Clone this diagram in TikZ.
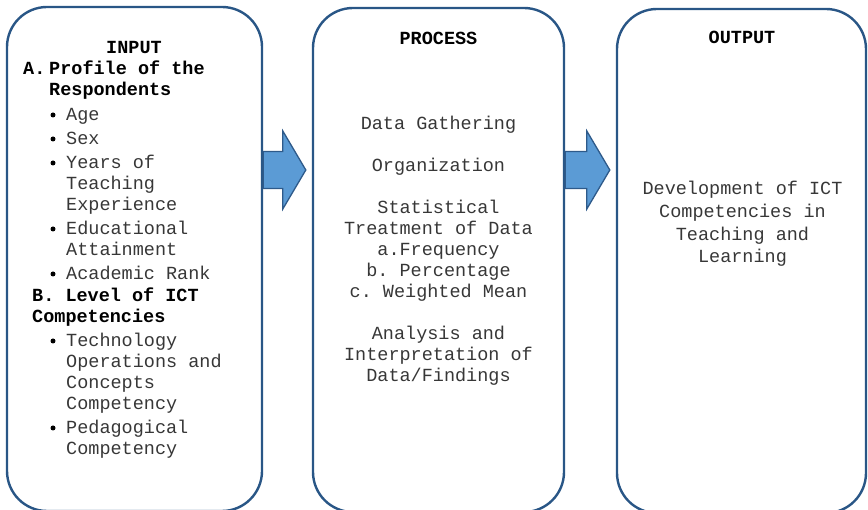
\documentclass[tikz,border=0pt]{standalone}
\usepackage{fontspec}
\setmonofont{Liberation Mono}
\usetikzlibrary{calc}
\definecolor{frame}{RGB}{41,86,134}
\definecolor{arrowfill}{RGB}{91,155,213}
\definecolor{arrowline}{RGB}{46,90,138}
\definecolor{bodytext}{RGB}{55,55,55}
\begin{document}
\begin{tikzpicture}[x=1pt,y=-1pt,
  stage/.style={draw=frame,line width=2.4pt,rounded corners=40pt,rectangle,inner sep=0pt},
  ln/.style={inner sep=0pt,anchor=base west,text=bodytext,font=\ttfamily\fontsize{18.5}{21}\selectfont},
  lc/.style={ln,anchor=base},
  hd/.style={ln,text=black,font=\ttfamily\bfseries\fontsize{18.5}{21}\selectfont},
  hc/.style={hd,anchor=base},
  blockarrow/.style={fill=arrowfill,draw=arrowline,line width=1.3pt,line join=miter},
  dot/.style={circle,fill=black,inner sep=0pt,minimum size=5pt}]
\useasboundingbox (0,0) rectangle (868,510);
\clip (0,0) rectangle (868,510);

% the three stages
\node[stage,minimum width=255pt,minimum height=504pt] (input) at (134.5,259) {};
\node[stage,minimum width=251pt,minimum height=504pt] (process) at (438.5,260) {};
\node[stage,minimum width=249pt,minimum height=504pt] (output) at (741.5,261) {};

% block arrows between the stages (tip stops just short of the next stage)
\coordinate (a1s) at (input.east |- 0,170);
\coordinate (a1e) at ($(process.west |- 0,170)+(-6,0)$);
\coordinate (a2s) at (process.east |- 0,170);
\coordinate (a2e) at ($(output.west |- 0,170)+(-6,0)$);
\foreach \s/\e in {a1s/a1e,a2s/a2e}{
  \draw[blockarrow] ($(\s)+(0,-18.5)$) -- ($(\e)+(-23,-18.5)$) -- ($(\e)+(-23,-39)$)
    -- (\e) -- ($(\e)+(-23,39)$) -- ($(\e)+(-23,18.5)$) -- ($(\s)+(0,18.5)$) -- cycle;
}

% INPUT
\node[hc] (inTitle) at (134,54) {INPUT};
\node[hd] (inA) at (23,75) {A.};
\node[hd] (inA1) at (49,75) {Profile of the};
\node[hd] (inA2) at (49,96) {Respondents};
\foreach \n/\t/\y in {b1/Age/121,b2/Sex/145,b3/Years of/169,b4/Educational/235,b5/Academic Rank/280,
                      b6/Technology/347,b7/Pedagogical/434}{
  \node[dot] (d\n) at (53,\y-6) {};
  \node[ln] (t\n) at (66,\y) {\t};
}
\node[ln] (tb3b) at (66,190) {Teaching};
\node[ln] (tb3c) at (66,211) {Experience};
\node[ln] (tb4b) at (66,256) {Attainment};
\node[hd] (inB1) at (32,302) {B. Level of ICT};
\node[hd] (inB2) at (32,323) {Competencies};
\node[ln] (tb6b) at (66,368) {Operations and};
\node[ln] (tb6c) at (66,389) {Concepts};
\node[ln] (tb6d) at (66,410) {Competency};
\node[ln] (tb7b) at (66,455) {Competency};

% PROCESS
\node[hc] (prTitle) at (438.5,45) {PROCESS};
\foreach \n/\t/\y in {p1/Data Gathering/130,p2/Organization/172,p3/Statistical/214,
                      p4/Treatment of Data/235,p5/a.Frequency/256,p6/b. Percentage/277,
                      p7/c. Weighted Mean/298,p8/Analysis and/340,p9/Interpretation of/361,
                      p10/{Data/Findings}/382}{
  \node[lc] (\n) at (438.5,\y) {\t};
}

% OUTPUT
\node[hc] (ouTitle) at (742,44) {OUTPUT};
\foreach \n/\t/\y in {o1/Development of ICT/195,o2/Competencies in/218,
                      o3/Teaching and/241,o4/Learning/263}{
  \node[lc] (\n) at (742.5,\y) {\t};
}
\end{tikzpicture}
\end{document}
